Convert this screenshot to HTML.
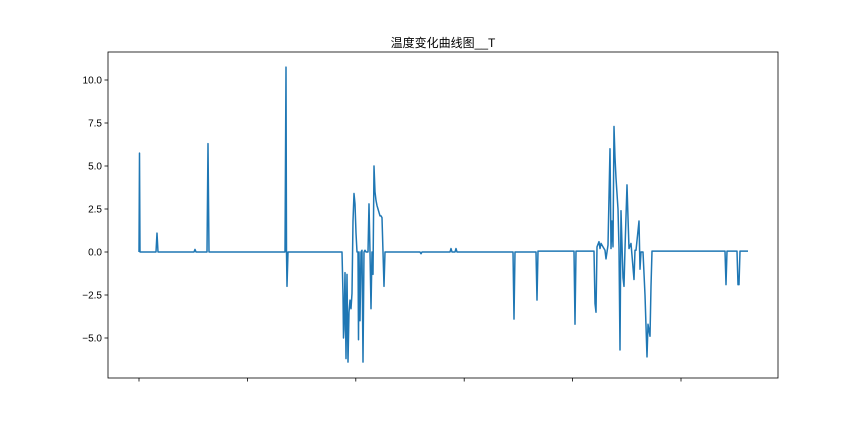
<!DOCTYPE html>
<html><head><meta charset="utf-8"><style>
body{margin:0;background:#fff}
svg{display:block;font-family:"Liberation Sans","Noto Sans CJK SC",sans-serif}
</style></head><body>
<svg id="c" width="864" height="432"></svg>
<script>
const xs=[0,0.5,1,2,17,18,19,55,56,57,68,69,70,146,147,147.5,148,149,203,204,204.5,
205,206,207,208,209,210,211,212,213,214,215,216,217,218,219,219.5,220,221,222,223,224,225,226,227,228,229,230,231,232,233,234,235,236,237,238,239,240,241,242,243,245,246,247,
281,282,283,311,312,313,316,317,318,374,375,376,397,398,399,400,435,436,437,
455,456,457,458,460,461,462,464,466,467,469,471,472,473,474,475,476,477,479,480,481,482,484,485,486,488,489,490,492,495,496,497,500,501,502,504,506,508,509,511,512,513,
586,587,588,598,599,600,601,603,609];
const ys=[0,5.75,0,0,0,1.1,0,0,0.15,0,0,6.3,0,0,10.75,0,-2,0,0,-2.5,-5,
-4.5,-1.2,-6.2,-1.3,-6.4,-3.5,-2.8,-3.3,-2.4,1.8,3.4,2.8,1.1,0,0,-5.1,0,-4,0,0.1,-6.4,0,0.1,0,0,0,2.8,0,-3.3,0,-1.3,5.0,3.5,3.0,2.7,2.5,2.3,2.1,2.1,2.0,-2.0,0,0,
0,-0.1,0,0,0.2,0,0,0.2,0,0,-3.9,0,0,-2.8,0.05,0.05,0.05,-4.2,0.05,
0.05,-3,-3.5,0.3,0.6,0.2,0.5,0.3,0.1,-0.4,0.4,6.0,0.2,1.8,0.3,7.3,5.5,4.3,2.5,0.2,-5.7,2.4,-1.5,-2.0,0.2,3.9,2.0,0.2,0.5,-1.6,0.1,0.1,1.8,-1.0,0,0,-2.5,-6.1,-4.2,-4.9,-2.0,0.05,
0.05,-1.9,0.05,0.05,-1.9,-1.9,0.05,0.05,0.05];
const yTicks=[-5,-2.5,0,2.5,5,7.5,10];
const yTickLabels=["−5.0","−2.5","0.0","2.5","5.0","7.5","10.0"];
const xTicks=[0,108.4,216.8,325.2,433.6,542];
const L=108,R=778,T=52,B=378;
const xS=v=>139+v;
const yS=v=>252-v*17.2;
const svg=document.getElementById('c');
const NS='http://www.w3.org/2000/svg';
function mk(t,a){const e=document.createElementNS(NS,t);for(const k in a)e.setAttribute(k,a[k]);svg.appendChild(e);return e;}
const title=mk('text',{x:443,y:47,'text-anchor':'middle','font-size':12,fill:'#000'});
title.textContent='温度变化曲线图__T';


let d='';
const n=Math.min(xs.length,ys.length);
for(let i=0;i<n;i++)d+=(i?'L':'M')+xS(xs[i]).toFixed(2)+' '+yS(ys[i]).toFixed(2);
const line=mk('path',{d:d,fill:'none',stroke:'#1f77b4','stroke-width':1.5,'stroke-linejoin':'round'});


yTicks.forEach((v,i)=>{
 const tk=mk('line',{x1:L-3.5,x2:L,y1:yS(v),y2:yS(v),stroke:'#000','stroke-width':0.8});
 
 
 const tx=mk('text',{x:L-6,y:yS(v)+3.5,'text-anchor':'end','font-size':10,fill:'#000'});
 tx.textContent=yTickLabels[i];
 
 
});
xTicks.forEach(v=>{
 const tk=mk('line',{x1:xS(v),x2:xS(v),y1:B,y2:B+3.5,stroke:'#000','stroke-width':0.8});
 
 
});
const fr=mk('rect',{x:L,y:T,width:R-L,height:B-T,fill:'none',stroke:'#000','stroke-width':0.8});


</script>
</body></html>
